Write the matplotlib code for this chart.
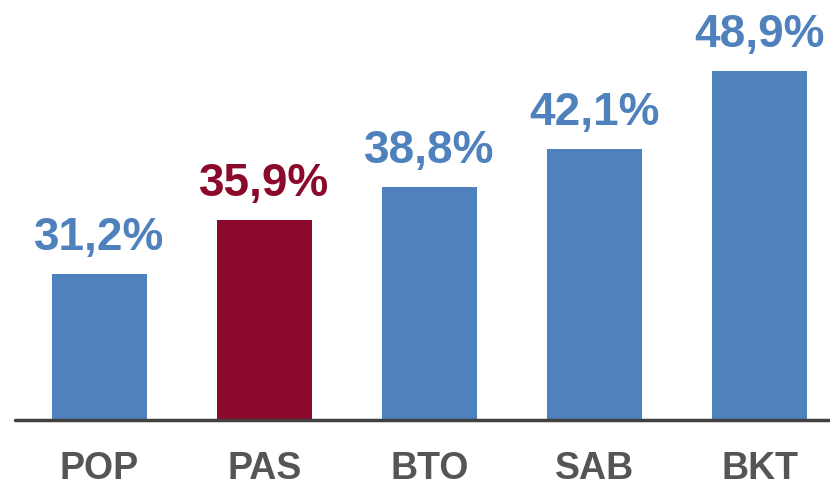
import matplotlib
matplotlib.use("Agg")
import matplotlib.pyplot as plt

categories = ["POP", "PAS", "BTO", "SAB", "BKT"]
values = [31.2, 35.9, 38.8, 42.1, 48.9]
labels = ["31,2%", "35,9%", "38,8%", "42,1%", "48,9%"]
highlight = "PAS"

BLUE = "#4F81BD"
RED = "#8B0A2C"

plt.rcParams['font.family'] = ['Liberation Sans', 'DejaVu Sans']

fig = plt.figure(figsize=(8.3, 4.86), dpi=100)
ax = fig.add_axes([0.018, 0.1358, 0.982, 0.8642])

colors = [RED if c == highlight else BLUE for c in categories]
x = list(range(len(categories)))
ax.bar(x, values, width=0.576, color=colors, zorder=2)

ax.set_xlim(-0.512, 4.427)
ax.set_ylim(18.47, 55.1)

for xi, v, lab, col in zip(x, values, labels, colors):
    ax.annotate(lab, (xi, v), xytext=(0, 17.5), textcoords="offset points",
                ha="center", va="baseline", fontsize=33, fontweight="bold",
                color=col)

for s in ["top", "right", "left"]:
    ax.spines[s].set_visible(False)
ax.spines["bottom"].set_color("#404040")
ax.spines["bottom"].set_linewidth(2.5)
ax.spines["bottom"].set_capstyle("round")
ax.set_yticks([])
ax.set_xticks(x)
ax.set_xticklabels(categories, fontsize=27, fontweight="bold", color="#555555")
ax.tick_params(axis="x", length=0, pad=22)

fig.savefig("out.png", dpi=100)
